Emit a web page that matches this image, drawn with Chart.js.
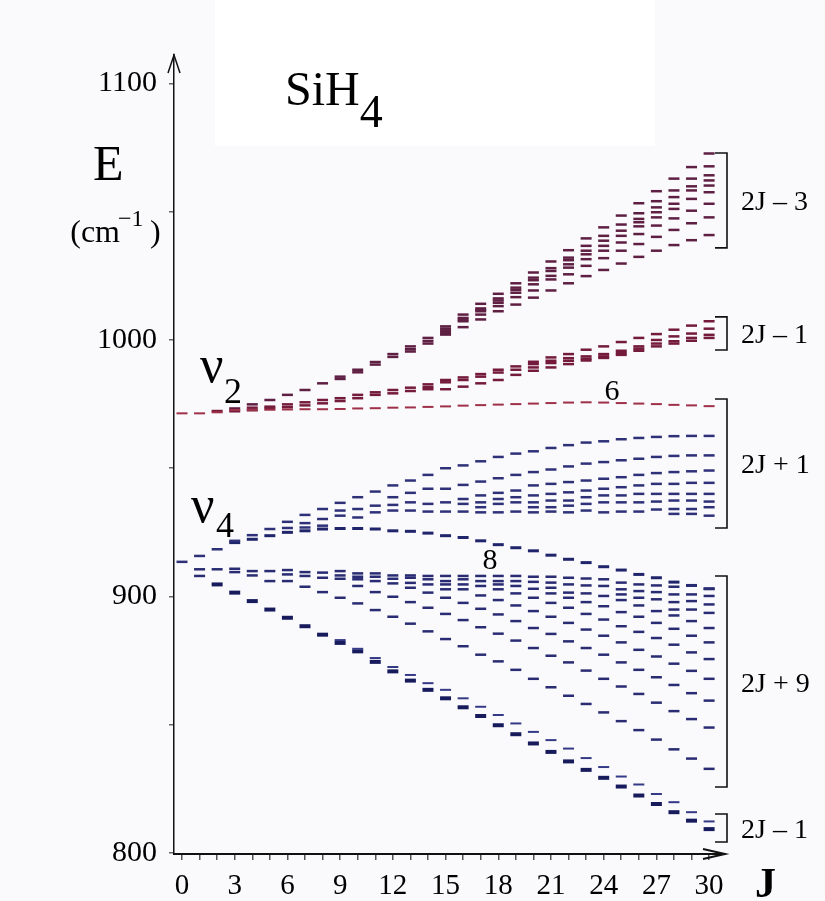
<!DOCTYPE html>
<html>
<head>
<meta charset="utf-8">
<script src="https://cdn.jsdelivr.net/npm/chart.js@4.4.1/dist/chart.umd.min.js"></script>
<style>
  html, body { margin: 0; padding: 0; background: #fafafc; }
  canvas { display: block; }
</style>
</head>
<body>
<canvas id="levels" width="825" height="901"></canvas>
<script>
// J values (x categories) and axis ticks
const J = [0, 1, 2, 3, 4, 5, 6, 7, 8, 9, 10, 11, 12, 13, 14, 15, 16, 17, 18, 19, 20, 21, 22, 23, 24, 25, 26, 27, 28, 29, 30];
const yTicks = [800, 850, 900, 950, 1000, 1050, 1100];

// Energy levels (cm-1), one list per J

// nu2: upper fan (2J - 3)
const nu2Fan = [
  [], [], [], [973.3], [974.9], [976.6], [978.6], [980.5], [983.1],
  [985.7, 984.8], [988.4, 987.4], [991.4, 990.4], [994.5, 993.4],
  [997.5, 996.4, 995.5], [1000.8, 999.6, 998.6],
  [1005.3, 1004.4, 1003.6, 1002.7, 1002.1],
  [1009.9, 1008.6, 1008.0, 1007.3, 1005.0],
  [1014.1, 1012.3, 1011.7, 1011.2, 1009.9, 1008.0],
  [1018.0, 1016.2, 1015.4, 1014.5, 1013.2, 1011.2],
  [1022.1, 1020.4, 1019.5, 1018.4, 1016.7, 1013.8],
  [1026.3, 1024.3, 1023.3, 1021.7, 1019.3, 1016.5],
  [1030.6, 1028.0, 1026.9, 1025.0, 1023.6, 1019.3],
  [1035.0, 1032.1, 1031.1, 1029.5, 1028.2, 1025.6, 1022.1],
  [1039.6, 1036.7, 1034.8, 1033.4, 1031.5, 1028.9, 1024.9],
  [1043.9, 1040.6, 1038.7, 1036.7, 1034.8, 1031.9, 1027.3],
  [1048.5, 1045.0, 1042.6, 1040.6, 1038.0, 1034.8, 1029.8],
  [1053.3, 1049.4, 1047.2, 1045.9, 1044.3, 1041.3, 1037.4, 1032.4],
  [1058.0, 1054.1, 1051.7, 1049.8, 1047.8, 1044.6, 1040.2, 1034.8],
  [1062.9, 1058.3, 1055.7, 1053.1, 1051.1, 1047.4, 1042.9, 1037.0],
  [1067.4, 1062.9, 1059.9, 1058.3, 1055.0, 1050.4, 1045.5, 1038.9],
  [1072.7, 1067.7, 1064.2, 1062.2, 1060.2, 1057.6, 1053.1, 1047.8, 1040.9]
];

// nu2: middle band (2J - 1)
const nu2Mid = [
  [], [], [972.3], [972.2], [973.6, 972.6], [974.0, 973.3], [974.9, 973.8],
  [975.7, 974.5], [976.6, 975.3], [977.3, 976.2], [978.6, 977.3],
  [979.6, 978.6], [980.5, 979.2], [981.4, 980.1], [982.7, 981.6, 980.8],
  [984.4, 983.5, 980.8], [985.4, 984.4, 981.8], [986.7, 985.7, 983.1],
  [988.4, 987.3, 984.4], [989.7, 988.4, 986.4],
  [991.5, 990.6, 989.3, 988.0], [993.2, 991.9, 991.0, 989.3],
  [994.5, 992.9, 991.9, 990.6], [996.2, 993.6, 992.7, 992.0],
  [997.5, 994.5, 993.6, 993.0], [999.2, 995.8, 994.9, 994.2],
  [1000.8, 997.5, 996.6, 995.8], [1002.3, 1000.0, 998.6, 997.5],
  [1004.0, 1001.4, 999.5, 998.6], [1005.6, 1002.5, 1000.8, 999.7],
  [1007.3, 1004.4, 1002.0, 1000.8]
];

// nu2: nearly flat branch (6)
const nu2Flat = [971.4, 971.4, 971.8, 972.7, 972.7, 972.8, 972.9, 973.0, 973.0, 973.1, 973.3,
  973.4, 973.6, 973.7, 973.9, 974.1, 974.4, 974.6, 974.8, 975.0, 975.2,
  975.4, 975.6, 975.7, 975.6, 975.4, 975.2, 975.0, 974.7, 974.5, 974.2];

// nu4: upper band (2J + 1)
const nu4Upper = [
  [913.5], [915.8], [918.4], [921.7], [923.9], [926.3], [929.1, 926.7],
  [931.8, 928.6, 926.9], [934.1, 930.2, 927.6], [936.5, 933.5, 931.5],
  [938.7, 934.1, 930.8], [940.9, 935.4, 932.8], [943.3, 938.7, 935.7, 933.5],
  [945.2, 940.4, 936.7, 933.5], [947.4, 942.0, 936.1, 933.1],
  [950.0, 942.0, 936.7, 933.1], [951.1, 943.5, 938.0, 936.1, 933.1],
  [952.7, 944.8, 939.4, 936.7, 934.8, 932.8], [954.4, 946.1, 940.4, 938.0, 936.1, 932.8],
  [955.7, 947.4, 941.3, 938.7, 936.7, 933.1], [956.6, 948.5, 943.3, 939.4, 936.7, 934.8, 932.8],
  [957.9, 949.5, 943.9, 940.0, 937.4, 934.8, 933.1], [959.0, 950.7, 944.6, 940.6, 937.4, 935.4, 932.8],
  [960.0, 951.8, 945.2, 941.3, 938.7, 936.1, 933.5], [960.5, 952.4, 945.9, 942.0, 939.4, 936.7, 932.8],
  [961.3, 953.1, 946.5, 942.6, 939.4, 936.7, 933.1], [961.8, 953.7, 947.4, 943.3, 940.0, 936.7, 933.1],
  [962.2, 954.4, 948.1, 943.9, 940.0, 937.0, 933.9], [962.5, 954.8, 948.5, 943.9, 940.0, 937.4, 934.1, 932.2],
  [962.6, 955.0, 948.8, 944.3, 940.0, 937.4, 934.1, 932.2], [962.6, 955.0, 949.1, 944.3, 940.0, 937.0, 934.8, 931.5]
];

// nu4: dome branch (8)
const nu4Dome = [null, null, null, 921.0, 922.3, 923.7, 925.0, 925.6, 926.3, 926.5, 926.5,
  926.3, 925.6, 925.4, 924.7, 923.7, 923.0, 921.7, 920.2, 919.0, 917.8,
  916.1, 914.5, 913.2, 911.6, 910.3, 908.6, 907.3, 905.6, 904.3, 903.0];

// nu4: lower fan (2J + 9)
const nu4Fan = [
  [], [910.6, 908.0], [910.6], [910.8, 909.5], [909.9, 908.2], [909.9, 906.0],
  [910.3, 908.6, 906.0], [909.5, 908.0, 903.8], [909.3, 907.3, 901.7],
  [909.9, 908.2, 906.9, 899.5], [909.0, 907.7, 906.7, 904.1, 897.3],
  [909.0, 907.7, 906.0, 901.7, 894.7], [908.2, 906.9, 905.1, 899.9, 892.1],
  [908.2, 907.3, 905.3, 903.4, 897.8, 889.4], [908.0, 906.7, 904.7, 901.5, 895.6, 886.4],
  [908.0, 906.0, 904.7, 902.8, 899.5, 893.2, 883.4],
  [908.0, 906.7, 904.7, 902.8, 897.5, 890.8, 880.6],
  [908.0, 906.0, 904.1, 900.4, 895.2, 888.0, 877.3],
  [908.0, 906.0, 904.7, 902.8, 898.6, 893.0, 885.5, 874.7],
  [908.0, 906.0, 904.1, 901.2, 896.5, 890.4, 882.8, 871.4],
  [907.7, 905.7, 903.0, 899.5, 894.3, 887.7, 879.9, 867.9],
  [907.7, 905.4, 903.4, 901.2, 897.5, 892.1, 885.4, 876.9, 864.6],
  [907.3, 904.7, 901.5, 899.5, 895.6, 889.7, 882.5, 874.3, 861.3],
  [907.0, 904.3, 901.2, 897.8, 893.2, 887.1, 879.9, 871.1, 858.1],
  [906.7, 904.1, 900.2, 896.2, 891.0, 884.7, 877.3, 867.9, 854.8],
  [905.4, 902.8, 900.8, 898.6, 893.9, 888.4, 882.1, 874.3, 864.9, 851.4],
  [904.7, 902.1, 899.5, 896.5, 892.1, 886.2, 879.2, 871.4, 862.0, 847.9],
  [904.3, 901.7, 898.9, 894.3, 889.7, 883.8, 876.6, 868.5, 858.6, 844.2],
  [903.8, 900.8, 897.8, 894.9, 892.6, 887.4, 881.2, 873.8, 865.5, 855.3, 840.4],
  [904.3, 900.8, 898.2, 894.9, 890.4, 884.7, 878.2, 871.0, 862.3, 852.2, 836.8],
  [903.0, 900.2, 896.9, 893.6, 887.7, 882.1, 875.6, 867.9, 859.4, 848.9, 832.8]
];

// nu4: steep lower branch (2J - 1), thin upper mark and heavy lower mark
const nu4LowUpper = [null, null, null, null, null, null, null, null, null, 883.0, 879.6,
  876.0, 872.5, 869.4, 866.2, 863.6, 860.3, 857.0, 853.8, 850.5, 847.2,
  844.0, 840.7, 837.0, 833.5, 829.8, 826.7, 823.0, 819.8, 815.9, 812.3];
const nu4LowLower = [null, null, 904.7, 901.5, 898.2, 894.9, 891.7, 888.4, 885.1, 881.9, 878.6,
  874.5, 870.8, 867.2, 863.6, 860.3, 856.8, 853.4, 849.8, 846.3, 842.7,
  839.4, 835.7, 832.4, 829.3, 825.9, 822.4, 819.1, 815.9, 812.6, 809.3];

// bracket groups on the right: [top E, bottom E, text]
const brackets = [
  [1072.9, 1035.9, '2J \u2013 3'],
  [1009.0, 996.1, '2J \u2013 1'],
  [977.0, 926.7, '2J + 1'],
  [908.0, 825.7, '2J + 9'],
  [815.2, 804.3, '2J \u2013 1']
];

const SERIF = '"Liberation Serif", "Times New Roman", serif';

function toPoints(levels) {
  const pts = [];
  levels.forEach((list, i) => {
    (Array.isArray(list) ? list : [list]).forEach(e => {
      if (e != null) pts.push({ x: J[i], y: e });
    });
  });
  return pts;
}

function marks(label, levels, color, width) {
  return {
    label: label,
    data: toPoints(levels),
    showLine: false,
    pointStyle: 'line',
    pointRadius: 5.5,
    pointHoverRadius: 5.5,
    pointBorderWidth: width,
    pointBorderColor: color,
    pointBackgroundColor: color,
    borderColor: color
  };
}

function text(ctx, str, x, y, size, align, weight) {
  ctx.font = (weight ? weight + ' ' : '') + size + 'px ' + SERIF;
  ctx.textAlign = align || 'left';
  ctx.textBaseline = 'alphabetic';
  ctx.fillText(str, x, y);
  return ctx.measureText(str).width;
}

const backdrop = {
  id: 'backdrop',
  beforeDraw(chart) {
    const ctx = chart.ctx;
    ctx.save();
    ctx.fillStyle = '#fafafc';
    ctx.fillRect(0, 0, chart.width, chart.height);
    ctx.fillStyle = '#ffffff';
    ctx.fillRect(215, 0, 440, 146);
    ctx.restore();
  }
};

const decorations = {
  id: 'decorations',
  afterDraw(chart) {
    const ctx = chart.ctx;
    const area = chart.chartArea;
    const ys = chart.scales.y;
    ctx.save();
    ctx.strokeStyle = '#111';
    ctx.fillStyle = '#000';

    // axis arrow heads
    ctx.lineWidth = 1.5;
    ctx.beginPath();
    ctx.moveTo(area.left - 6, area.top + 18);
    ctx.lineTo(area.left, area.top);
    ctx.lineTo(area.left + 6, area.top + 18);
    ctx.stroke();
    ctx.lineWidth = 2;
    ctx.beginPath();
    ctx.moveTo(area.right - 22, area.bottom - 5);
    ctx.lineTo(area.right, area.bottom);
    ctx.lineTo(area.right - 22, area.bottom + 5);
    ctx.stroke();

    // title and axis names
    const w = text(ctx, 'SiH', 285, 105, 48);
    text(ctx, '4', 285 + w, 127, 46);
    text(ctx, 'E', 93, 180, 50);
    text(ctx, '(cm', 120, 242, 32, 'right');
    text(ctx, '\u22121', 118, 226, 24);
    text(ctx, ')', 150, 242, 32);
    text(ctx, 'J', 755, 897, 42, 'left', 'bold');

    // band labels
    text(ctx, '\u03BD', 200, 382, 52);
    text(ctx, '2', 224, 403, 36);
    text(ctx, '\u03BD', 191, 522, 52);
    text(ctx, '4', 216, 537, 36);
    text(ctx, '6', 612, 400, 30, 'center');
    text(ctx, '8', 490, 569, 30, 'center');

    // brackets
    ctx.lineWidth = 1.6;
    brackets.forEach(([top, bottom, label]) => {
      const y1 = ys.getPixelForValue(top);
      const y2 = ys.getPixelForValue(bottom);
      ctx.beginPath();
      ctx.moveTo(715, y1);
      ctx.lineTo(727, y1);
      ctx.lineTo(727, y2);
      ctx.lineTo(715, y2);
      ctx.stroke();
      text(ctx, label, 741, (y1 + y2) / 2 + 10, 28);
    });
    ctx.restore();
  }
};

new Chart(document.getElementById('levels'), {
  type: 'scatter',
  data: {
    datasets: [
      marks('nu2 flat', nu2Flat, '#9e3049', 2),
      marks('nu2 2J-1', nu2Mid, '#741b3b', 2.5),
      marks('nu2 2J-3', nu2Fan, '#5e1f42', 2.5),
      marks('nu4 2J+1', nu4Upper, '#2e3178', 2.5),
      marks('nu4 2J+9', nu4Fan, '#292c72', 2.5),
      marks('nu4 dome', nu4Dome, '#20246a', 3),
      marks('nu4 2J-1 upper', nu4LowUpper, '#353a86', 2),
      marks('nu4 2J-1 lower', nu4LowLower, '#171b5c', 4)
    ]
  },
  options: {
    responsive: false,
    animation: false,
    layout: { padding: { left: 0, right: 100, top: 55, bottom: 0 } },
    plugins: { legend: { display: false }, tooltip: { enabled: false } },
    scales: {
      x: {
        type: 'linear',
        min: -0.455,
        max: 30.905,
        afterBuildTicks: s => { s.ticks = J.map(v => ({ value: v })); },
        afterFit: s => { s.height = 47; },
        ticks: {
          autoSkip: false,
          maxRotation: 0,
          padding: 9,
          color: '#000',
          font: { family: SERIF, size: 29 },
          callback: v => (v % 3 === 0 ? String(v) : '')
        },
        grid: { drawOnChartArea: false, tickLength: 6, color: '#555', lineWidth: 1.5 },
        border: { color: '#111', width: 2 }
      },
      y: {
        type: 'linear',
        min: 799.6,
        max: 1111.1,
        afterBuildTicks: s => { s.ticks = yTicks.map(v => ({ value: v })); },
        afterFit: s => { s.width = 174; },
        ticks: {
          padding: 12,
          color: '#000',
          font: { family: SERIF, size: 30 },
          callback: v => (v % 100 === 0 ? String(v) : '')
        },
        grid: { drawOnChartArea: false, tickLength: 5, color: '#666', lineWidth: 1.5 },
        border: { color: '#111', width: 1.5 }
      }
    }
  },
  plugins: [backdrop, decorations]
});
</script>
</body>
</html>
